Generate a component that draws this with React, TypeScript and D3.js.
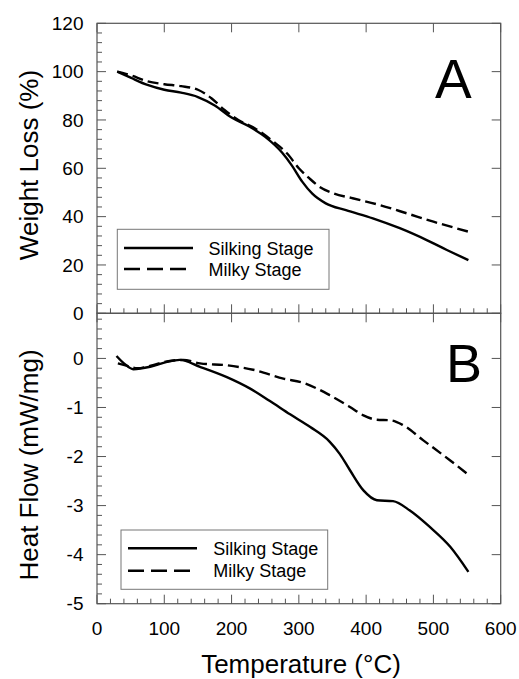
import React from "react";
import * as d3 from "d3";

const tempSilkingA = [30, 50, 75, 100, 125, 150, 175, 200, 225, 250, 275, 290, 305, 320, 340, 370, 410, 450, 490, 520, 552];
const weightSilking = [100, 97.5, 94.5, 92.5, 91.3, 89.5, 86, 81, 77.5, 73, 66.5, 61, 54.5, 49.5, 45.5, 42.7, 39.3, 35.2, 30.3, 26.2, 22];
const tempMilkyA = [30, 50, 75, 100, 125, 150, 170, 190, 210, 235, 260, 283, 300, 315, 330, 350, 380, 420, 460, 500, 552];
const weightMilky = [100, 98.5, 96, 94.8, 94, 92.5, 89, 84, 80, 76.5, 71.5, 66, 60, 56, 52.5, 49.8, 47.6, 44.8, 41.4, 37.9, 33.8];

const tempSilkingB = [29, 40, 54, 79, 104, 123, 153, 193, 227, 257, 287, 317, 346, 361, 376, 396, 416, 440, 465, 495, 525, 552];
const heatSilking = [0.05, -0.1, -0.22, -0.17, -0.07, -0.03, -0.17, -0.38, -0.61, -0.87, -1.14, -1.4, -1.7, -1.95, -2.28, -2.69, -2.89, -2.91, -3.1, -3.44, -3.84, -4.35];
const tempMilkyB = [31, 45, 60, 80, 104, 128, 153, 193, 232, 277, 307, 346, 376, 396, 416, 436, 455, 485, 525, 550];
const heatMilky = [-0.1, -0.15, -0.2, -0.15, -0.06, -0.03, -0.1, -0.14, -0.23, -0.41, -0.5, -0.75, -0.99, -1.16, -1.25, -1.26, -1.36, -1.67, -2.08, -2.35];

const xTicks = [0, 100, 200, 300, 400, 500, 600];
const yTicksA = [0, 20, 40, 60, 80, 100, 120];
const yTicksB = [-5, -4, -3, -2, -1, 0];
const seriesNames = ["Silking Stage", "Milky Stage"];

const FONT = "'Liberation Sans', Arial, Helvetica, sans-serif";
const L = 97, R = 500.7;
const A_TOP = 23.3, A_BOT = 313.3, B_TOP = 313.3, B_BOT = 603.7;
const FRAME = "#555";

export default function App() {
  const x = d3.scaleLinear().domain([0, 600]).range([L, R]);
  const yA = d3.scaleLinear().domain([0, 120]).range([A_BOT, A_TOP]);
  const yB = d3.scaleLinear().domain([-5, 0.92]).range([B_BOT, B_TOP]);

  const mk = (xs: number[], ys: number[], ys2: d3.ScaleLinear<number, number>) =>
    d3.line<number>().x((_, i) => x(xs[i])).y((v) => ys2(v)).curve(d3.curveMonotoneX)(ys) || "";

  const xMinor = d3.range(0, 601, 20).filter((v) => v % 100 !== 0);
  const yMinorA = d3.range(0, 121, 4).filter((v) => v % 20 !== 0);
  const yMinorB = d3.range(-5, 0.93, 0.2).map((v) => Math.round(v * 10) / 10).filter((v) => Math.abs(v - Math.round(v)) > 1e-6);

  const MAJ = 9, MIN = 5;

  const legend = (bx: number, by: number, bw: number, bh: number, lx0: number, lx1: number, ly: number[], tx: number) => (
    <g>
      <rect x={bx} y={by} width={bw} height={bh} fill="#fff" stroke="#777" strokeWidth={1} />
      <line x1={lx0} x2={lx1} y1={ly[0]} y2={ly[0]} stroke="#000" strokeWidth={2.4} />
      <line x1={lx0} x2={lx1} y1={ly[1]} y2={ly[1]} stroke="#000" strokeWidth={2.4} strokeDasharray="16,7" />
      <text x={tx} y={ly[0] + 6.5} fontSize={18} fontFamily={FONT}>{seriesNames[0]}</text>
      <text x={tx} y={ly[1] + 6.5} fontSize={18} fontFamily={FONT}>{seriesNames[1]}</text>
    </g>
  );

  return (
    <svg width={519} height={679} style={{ position: "absolute", left: 0, top: 0, background: "#fff" }}>
      <rect x={0} y={0} width={519} height={679} fill="#fff" />
      {yTicksA.map((v) => (
        <g key={"ya" + v}>
          <line x1={L} x2={L + MAJ} y1={yA(v)} y2={yA(v)} stroke={FRAME} />
          <line x1={R} x2={R - MAJ} y1={yA(v)} y2={yA(v)} stroke={FRAME} />
          <text x={83.5} y={yA(v)} dy="0.35em" textAnchor="end" fontSize={19} fontFamily={FONT}>{v}</text>
        </g>
      ))}
      {yMinorA.map((v) => (
        <line key={"yma" + v} x1={L} x2={L + MIN} y1={yA(v)} y2={yA(v)} stroke={FRAME} />
      ))}
      {xTicks.map((v) => (
        <g key={"xa" + v}>
          <line x1={x(v)} x2={x(v)} y1={A_TOP} y2={A_TOP + MAJ} stroke={FRAME} />
          <line x1={x(v)} x2={x(v)} y1={A_BOT} y2={A_BOT - MAJ} stroke={FRAME} />
          <line x1={x(v)} x2={x(v)} y1={B_TOP} y2={B_TOP + MAJ} stroke={FRAME} />
          <line x1={x(v)} x2={x(v)} y1={B_BOT} y2={B_BOT - MAJ} stroke={FRAME} />
          <text x={x(v)} y={635} textAnchor="middle" fontSize={19} fontFamily={FONT}>{v}</text>
        </g>
      ))}
      {xMinor.map((v) => (
        <g key={"xm" + v}>
          <line x1={x(v)} x2={x(v)} y1={A_BOT} y2={A_BOT - MIN} stroke={FRAME} />
          <line x1={x(v)} x2={x(v)} y1={B_BOT} y2={B_BOT - MIN} stroke={FRAME} />
        </g>
      ))}
      {yTicksB.map((v) => (
        <g key={"yb" + v}>
          <line x1={L} x2={L + MAJ} y1={yB(v)} y2={yB(v)} stroke={FRAME} />
          <line x1={R} x2={R - MAJ} y1={yB(v)} y2={yB(v)} stroke={FRAME} />
          <text x={83.5} y={yB(v)} dy="0.35em" textAnchor="end" fontSize={19} fontFamily={FONT}>{v}</text>
        </g>
      ))}
      {yMinorB.map((v) => (
        <line key={"ymb" + v} x1={L} x2={L + MIN} y1={yB(v)} y2={yB(v)} stroke={FRAME} />
      ))}
      <rect x={L} y={A_TOP} width={R - L} height={A_BOT - A_TOP} fill="none" stroke={FRAME} strokeWidth={1.2} />
      <rect x={L} y={B_TOP} width={R - L} height={B_BOT - B_TOP} fill="none" stroke={FRAME} strokeWidth={1.2} />

      <path d={mk(tempSilkingA, weightSilking, yA)} fill="none" stroke="#000" strokeWidth={2.4} />
      <path d={mk(tempMilkyA, weightMilky, yA)} fill="none" stroke="#000" strokeWidth={2.4} strokeDasharray="11,5" />
      <path d={mk(tempSilkingB, heatSilking, yB)} fill="none" stroke="#000" strokeWidth={2.4} />
      <path d={mk(tempMilkyB, heatMilky, yB)} fill="none" stroke="#000" strokeWidth={2.4} strokeDasharray="11,5" />

      {legend(117.3, 229.3, 211.7, 60, 124, 193, [248, 269], 208.5)}
      {legend(121, 530, 206.7, 59.3, 128, 197, [548.3, 570.7], 213.3)}

      <text x={435} y={98} fontSize={55} fontFamily={FONT}>A</text>
      <text x={446} y={382} fontSize={54} fontFamily={FONT}>B</text>

      <text transform="translate(38,165) rotate(-90)" textAnchor="middle" fontSize={26} fontFamily={FONT}>Weight Loss (%)</text>
      <text transform="translate(38,465) rotate(-90)" textAnchor="middle" fontSize={26} fontFamily={FONT}>Heat Flow (mW/mg)</text>
      <text x={301} y={673} textAnchor="middle" fontSize={26} fontFamily={FONT}>Temperature (°C)</text>
    </svg>
  );
}
